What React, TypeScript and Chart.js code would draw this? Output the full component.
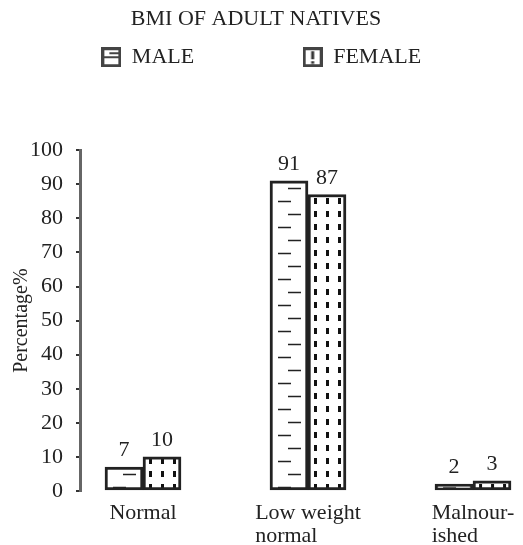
import React, { useEffect, useRef } from 'react';
import { Chart, registerables } from 'chart.js';

Chart.register(...registerables);

const chartTitle = 'BMI OF ADULT NATIVES';
const categories = ['Normal', 'Low weight\nnormal', 'Malnour-\nished'];
const seriesNames = ['MALE', 'FEMALE'];
const maleValues = [7, 91, 2];
const femaleValues = [10, 87, 3];
const yAxisTitle = 'Percentage%';
const yMin = 0;
const yMax = 100;
const yStep = 10;

const FONT = "'Liberation Serif', 'Times New Roman', serif";
const INK = '#222';
const W = 523;
const H = 545;
const AXIS_X = 80;
const X_MIN = -0.3818;
const X_MAX = 2.303;
const BAR_W = 38;

function mk(w: number, h: number) {
  const c = document.createElement('canvas');
  c.width = w;
  c.height = h;
  return [c, c.getContext('2d') as CanvasRenderingContext2D] as const;
}

function maleTile() {
  const [c, g] = mk(BAR_W, 26);
  g.fillStyle = '#fff';
  g.fillRect(0, 0, BAR_W, 26);
  g.strokeStyle = '#222';
  g.lineWidth = 1.5;
  g.beginPath();
  g.moveTo(18, 6.5); g.lineTo(31, 6.5);
  g.moveTo(8, 19.5); g.lineTo(21, 19.5);
  g.stroke();
  return c;
}

function femaleTile() {
  const [c, g] = mk(BAR_W, 13);
  g.fillStyle = '#fff';
  g.fillRect(0, 0, BAR_W, 13);
  g.fillStyle = '#111';
  [6, 18, 30].forEach((x) => g.fillRect(x, 3, 3, 6));
  return c;
}

function maleIcon() {
  const [c, g] = mk(20, 20);
  g.fillStyle = '#fff';
  g.fillRect(0, 0, 20, 20);
  g.strokeStyle = '#444';
  g.lineWidth = 3;
  g.strokeRect(1.5, 1.5, 17, 17);
  g.lineWidth = 2;
  g.beginPath();
  g.moveTo(3, 10); g.lineTo(17, 10);
  g.moveTo(8, 6); g.lineTo(17, 6);
  g.stroke();
  return c;
}

function femaleIcon() {
  const [c, g] = mk(20, 20);
  g.fillStyle = '#fff';
  g.fillRect(0, 0, 20, 20);
  g.strokeStyle = '#444';
  g.lineWidth = 3;
  g.strokeRect(1.5, 1.5, 17, 17);
  g.fillStyle = '#333';
  g.fillRect(8.5, 4, 3, 8);
  g.fillRect(8.5, 14, 3, 2.5);
  return c;
}

export default function App() {
  const ref = useRef<HTMLCanvasElement>(null);

  useEffect(() => {
    const canvas = ref.current as HTMLCanvasElement;
    const ctx = canvas.getContext('2d') as CanvasRenderingContext2D;
    const icons = [maleIcon(), femaleIcon()];
    const mTile = maleTile();
    const fTile = femaleTile();

    // pattern aligned to the bar's left edge (side: -1 male, 0 female)
    const patternFor = (tile: HTMLCanvasElement, side: number) => (c: any) => {
      const xs = c.chart.scales && c.chart.scales.x;
      const p = ctx.createPattern(tile, 'repeat') as CanvasPattern;
      if (xs && typeof c.dataIndex === 'number') {
        const left = xs.getPixelForValue(c.dataIndex) + side * BAR_W;
        try { p.setTransform(new DOMMatrix().translate(left, 0)); } catch (e) { /* ignore */ }
      }
      return p;
    };

    const valueLabels = {
      id: 'valueLabels',
      afterDatasetsDraw(chart: any) {
        const c = chart.ctx;
        c.save();
        c.font = `22px ${FONT}`;
        c.fillStyle = INK;
        c.textAlign = 'center';
        c.textBaseline = 'alphabetic';
        chart.data.datasets.forEach((ds: any, di: number) => {
          const meta = chart.getDatasetMeta(di);
          meta.data.forEach((el: any, i: number) => {
            c.fillText(String(ds.data[i].y), el.x, el.y - 11);
          });
        });
        c.restore();
      },
    };

    const catLabels = {
      id: 'catLabels',
      afterDraw(chart: any) {
        const c = chart.ctx;
        const xs = chart.scales.x;
        const bottom = chart.chartArea.bottom;
        c.save();
        c.font = `22px ${FONT}`;
        c.fillStyle = INK;
        c.textAlign = 'left';
        c.textBaseline = 'alphabetic';
        categories.forEach((cat, i) => {
          const lines = cat.split('\n');
          const cx = xs.getPixelForValue(i);
          const w0 = c.measureText(lines[0]).width;
          const left = cx - w0 / 2;
          lines.forEach((ln, j) => c.fillText(ln, left, bottom + 28 + j * 23));
        });
        c.restore();
      },
    };

    const chart = new Chart(canvas, {
      type: 'bar',
      data: {
        datasets: [
          {
            label: seriesNames[0],
            data: maleValues.map((v, i) => ({ x: i, y: v })) as any,
            backgroundColor: patternFor(mTile, -1) as any,
            borderColor: INK,
            borderWidth: 3,
            borderSkipped: false,
            barThickness: BAR_W,
          },
          {
            label: seriesNames[1],
            data: femaleValues.map((v, i) => ({ x: i, y: v })) as any,
            backgroundColor: patternFor(fTile, 0) as any,
            borderColor: INK,
            borderWidth: 3,
            borderSkipped: false,
            barThickness: BAR_W,
          },
        ],
      },
      options: {
        responsive: false,
        animation: false,
        layout: { padding: { left: 0, right: 0, top: 0, bottom: 0 } },
        scales: {
          x: {
            type: 'linear',
            min: X_MIN,
            max: X_MAX,
            offset: false,
            grid: { display: false },
            border: { display: false },
            ticks: { display: false },
            afterFit: (s: any) => { s.height = 54; },
          },
          y: {
            min: yMin,
            max: yMax,
            ticks: { stepSize: yStep, font: { family: FONT, size: 22 }, color: INK, padding: 13 },
            grid: { drawOnChartArea: false, drawTicks: true, tickLength: 4, color: '#333', lineWidth: 2 },
            border: { display: true, color: '#666', width: 3 },
            title: { display: true, text: yAxisTitle, font: { family: FONT, size: 20 }, color: INK, padding: { top: 10, bottom: 0 } },
            afterFit: (s: any) => { s.width = AXIS_X; },
          },
        } as any,
        plugins: {
          title: {
            display: true,
            text: chartTitle + '  ',
            font: { family: FONT, size: 22, weight: 'normal' },
            color: INK,
            padding: { top: 6.3, bottom: 3.5 },
          },
          subtitle: {
            display: true,
            text: ' ',
            weight: 500,
            font: { family: FONT, size: 10 },
            padding: { top: 0, bottom: 60 },
          } as any,
          legend: {
            display: true,
            position: 'top',
            labels: {
              usePointStyle: true,
              boxWidth: 19,
              boxHeight: 19,
              padding: 10,
              color: INK,
              font: { family: FONT, size: 22 },
              generateLabels: (ch: any) => {
                const items = (Chart.defaults.plugins.legend.labels as any).generateLabels(ch);
                return items.map((it: any, i: number) => ({
                  ...it,
                  text: i === 0 ? it.text + '                  ' : it.text,
                  pointStyle: icons[i],
                }));
              },
            },
          },
          tooltip: { enabled: false },
        },
      },
      plugins: [valueLabels, catLabels],
    });

    return () => chart.destroy();
  }, []);

  return (
    <div style={{ position: 'absolute', left: 0, top: 0, width: W, height: H, background: '#fff' }}>
      <canvas ref={ref} width={W} height={H} style={{ width: W, height: H, display: 'block' }} />
    </div>
  );
}
